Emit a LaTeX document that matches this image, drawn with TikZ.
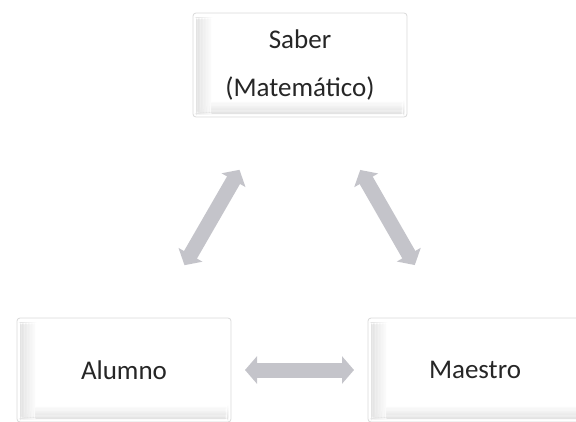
\documentclass[tikz,border=0pt]{standalone}
\usepackage{fontspec}
\setmainfont{Carlito}
\usepackage{xcolor}
\usetikzlibrary{arrows.meta}

\definecolor{arrowgray}{HTML}{C4C4CA}
\definecolor{textgray}{HTML}{262626}

\tikzset{
  box/.style={draw=gray!30, line width=0.8pt, rounded corners=3pt, fill=white,
    minimum width=214pt, minimum height=104pt, text=textgray,
    font=\fontsize{27}{48}\selectfont, align=center,
    path picture={
      % bevel, left side and bottom
      \foreach \k in {0,...,9}{
        \fill[gray!\the\numexpr 22-2*\k\relax]
          ([xshift=3pt+\k*1.5pt, yshift=-4pt]path picture bounding box.north west)
          rectangle ([xshift=4.6pt+\k*1.5pt, yshift=3pt]path picture bounding box.south west);
        \fill[gray!\the\numexpr 22-2*\k\relax]
          ([xshift=3pt+\k*1.5pt, yshift=3pt+\k*1.2pt]path picture bounding box.south west)
          rectangle ([xshift=-3pt, yshift=4.3pt+\k*1.2pt]path picture bounding box.south east);
      }
    }},
  link/.style={draw=arrowgray, line width=15pt,
    {Triangle[width=27pt,length=12pt]}-{Triangle[width=27pt,length=12pt]},
    shorten <=121pt, shorten >=121pt}
}

\begin{document}
\begin{tikzpicture}[x=1pt, y=-1pt]

  \useasboundingbox (0,0) rectangle (576,421);

  \node[box] (saber) at (300,65) {Saber\\(Matemático)};
  \node[box] (alumno) at (124,370) {Alumno};
  \node[box] (maestro) at (475,370) {Maestro};

  \draw[link] (saber.center) -- (alumno.center);
  \draw[link] (saber.center) -- (maestro.center);
  \draw[link] (alumno.center) -- (maestro.center);

\end{tikzpicture}
\end{document}
